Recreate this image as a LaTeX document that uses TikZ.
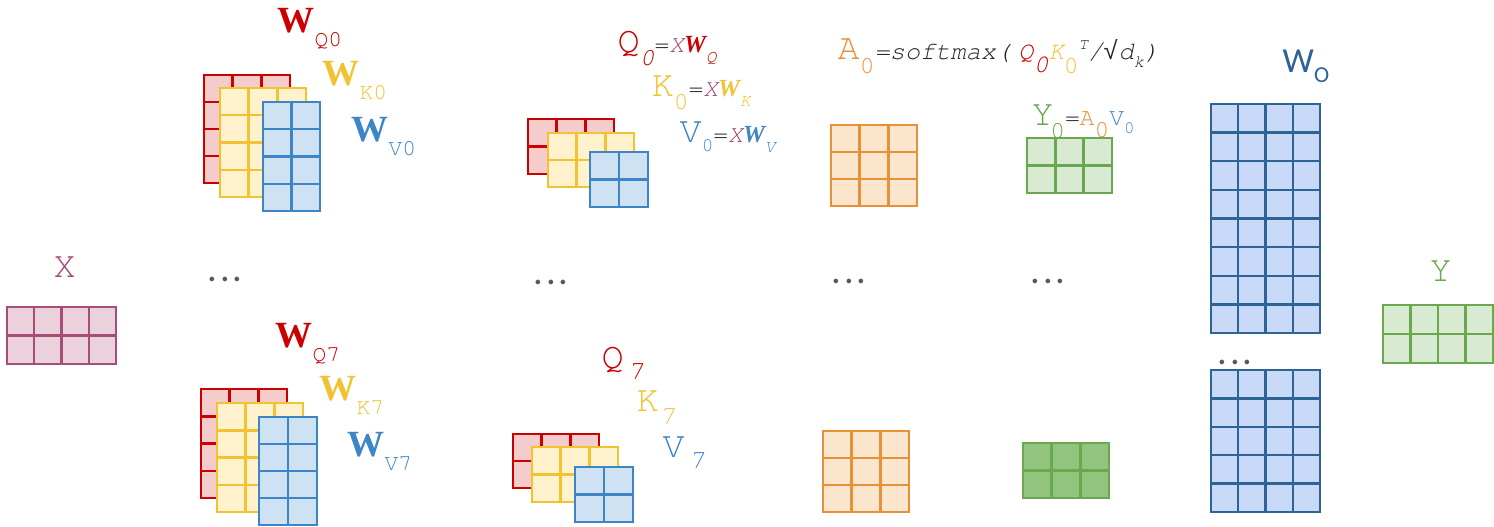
\documentclass[tikz,border=0pt]{standalone}
\usepackage{fontspec}
\setmainfont{Liberation Serif}
\newfontfamily\monofont{TeX Gyre Cursor}
\newfontfamily\symfont{Liberation Mono}
\newfontfamily\califont{Carlito}
\definecolor{cq}{HTML}{CC0000}
\definecolor{ck}{HTML}{F1C232}
\definecolor{cv}{HTML}{3D85C6}
\definecolor{ca}{HTML}{E69138}
\definecolor{cy}{HTML}{6AA84F}
\definecolor{cx}{HTML}{A64D79}
\definecolor{co}{HTML}{2E6396}
\definecolor{ink}{HTML}{262626}
\definecolor{dotc}{HTML}{595959}
\definecolor{qfill}{HTML}{F4CCCC}
\definecolor{kfill}{HTML}{FFF2CC}
\definecolor{vfill}{HTML}{CFE2F3}
\definecolor{afill}{HTML}{FCE5CD}
\definecolor{yfill}{HTML}{D9EAD3}
\definecolor{ydark}{HTML}{93C47D}
\definecolor{xfill}{HTML}{EAD1DC}
\definecolor{ofill}{HTML}{C9DAF8}
\usepackage{tikz}

\newcommand{\fs}[1]{\fontsize{#1}{#1}\selectfont}
\newcommand{\mono}[2]{{\monofont\fs{#1}#2}}
\newcommand{\monoi}[2]{{\monofont\itshape\fs{#1}#2}}
\newcommand{\dn}[2]{\raisebox{-#1}{#2}}
\newcommand{\wlab}[1]{{\bfseries\fs{10.5}W}\dn{4pt}{\mono{6.5}{#1}}}
\newcommand{\dotrow}{{\califont\fs{11}.\kern0.8pt.\kern0.8pt.}}
% style, left, top, right, bottom, cols, rows
\newcommand{\cells}[7]{%
  \filldraw[#1] (#2,#3) rectangle (#4,#5);
  \pgfmathtruncatemacro\nc{#6-1}
  \pgfmathtruncatemacro\nr{#7-1}
  \foreach \i in {1,...,\nc} \draw[#1] ({#2+(#4-#2)*\i/#6},#3) -- ({#2+(#4-#2)*\i/#6},#5);
  \foreach \j in {1,...,\nr} \draw[#1] (#2,{#3+(#5-#3)*\j/#7}) -- (#4,{#3+(#5-#3)*\j/#7});
}

\begin{document}
\begin{tikzpicture}[
  x=0.01cm,y=-0.01cm,
  lab/.style={inner sep=0pt,anchor=base west},
  dotlab/.style={inner sep=0pt,anchor=base west,text=dotc},
  qmat/.style={draw=cq,fill=qfill,line width=0.7pt},
  kmat/.style={draw=ck,fill=kfill,line width=0.7pt},
  vmat/.style={draw=cv,fill=vfill,line width=0.7pt},
  amat/.style={draw=ca,fill=afill,line width=0.7pt},
  ymat/.style={draw=cy,fill=yfill,line width=0.7pt},
  ymatdark/.style={draw=cy,fill=ydark,line width=0.7pt},
  xmat/.style={draw=cx,fill=xfill,line width=0.7pt},
  omat/.style={draw=co,fill=ofill,line width=0.7pt}
]
  \useasboundingbox (0,0) rectangle (1494,526);

  % input
  \node[lab,text=cx] (xlab) at (53,277) {\mono{10.5}{X}};
  \cells{xmat}{7}{307}{116}{364}{4}{2}

  % weights, head 0 and head 7
  \cells{qmat}{204}{75}{290}{183}{3}{4}
  \cells{kmat}{220}{88}{306}{197}{3}{4}
  \cells{vmat}{263}{102}{320}{211}{2}{4}
  \node[lab,text=cq] (wq0) at (277,32) {\wlab{Q0}};
  \node[lab,text=ck] (wk0) at (322,85) {\wlab{K0}};
  \node[lab,text=cv] (wv0) at (351,141) {\wlab{V0}};

  \cells{qmat}{201}{389}{287}{498}{3}{4}
  \cells{kmat}{217}{403}{303}{512}{3}{4}
  \cells{vmat}{259}{417}{317}{525}{2}{4}
  \node[lab,text=cq] (wq7) at (275,347) {\wlab{Q7}};
  \node[lab,text=ck] (wk7) at (319,400) {\wlab{K7}};
  \node[lab,text=cv] (wv7) at (347,456) {\wlab{V7}};

  % Q K V
  \cells{qmat}{528}{119}{614}{174}{3}{2}
  \cells{kmat}{548}{133}{634}{187}{3}{2}
  \cells{vmat}{590}{152}{648}{207}{2}{2}
  \node[lab] (q0) at (617,52) {\textcolor{cq}{\mono{10.5}{Q}\dn{3.7pt}{\monoi{7}{0}}}\textcolor{ink}{\mono{7}{=}}\textcolor{cx}{\monoi{7}{X}}\textcolor{cq}{{\bfseries\itshape\fs{7}W}\dn{3pt}{\monoi{5}{Q}}}};
  \node[lab] (k0) at (651,96) {\textcolor{ck}{\mono{10.5}{K}\dn{3.7pt}{\mono{7}{0}}}\textcolor{ink}{\mono{7}{=}}\textcolor{cx}{\monoi{7}{X}}\textcolor{ck}{{\bfseries\itshape\fs{7}W}\dn{3pt}{\monoi{5}{K}}}};
  \node[lab] (v0) at (679,142) {\textcolor{cv}{\mono{10.5}{V}\dn{2.6pt}{\mono{5.5}{0}}}\textcolor{ink}{\mono{7}{=}}\textcolor{cx}{\monoi{7}{X}}\textcolor{cv}{{\bfseries\itshape\fs{7}W}\dn{3pt}{\monoi{5}{V}}}};

  \cells{qmat}{513}{434}{599}{488}{3}{2}
  \cells{kmat}{532}{447}{618}{502}{3}{2}
  \cells{vmat}{575}{467}{633}{522}{2}{2}
  \node[lab,text=cq] (q7) at (601,368) {\mono{10.5}{Q}\kern1pt\dn{3.4pt}{\monoi{7.5}{7}}};
  \node[lab,text=ck] (k7) at (636,411) {\mono{10.5}{K}\dn{3.7pt}{\monoi{7.5}{7}}};
  \node[lab,text=cv] (v7) at (662,457) {\mono{10.5}{V}\kern1pt\dn{3.4pt}{\monoi{7.5}{7}}};

  % attention
  \node[lab] (a0) at (837,59) {\textcolor{ca}{\mono{10.5}{A}\dn{4pt}{\mono{7}{0}}}\textcolor{ink}{\monoi{7.2}{=softmax(}}\kern2pt\textcolor{cq}{\monoi{7.2}{Q}\dn{3.7pt}{\monoi{7.2}{0}}}\textcolor{ck}{\monoi{7.2}{K}\dn{4pt}{\mono{7}{0}}}\textcolor{ink}{\raisebox{2.6pt}{\monoi{4.5}{T}}\monoi{7.2}{/}{\symfont\fs{7.2}√}\monoi{7.2}{d}\dn{2.5pt}{\monoi{5}{k}}\monoi{7.2}{)}}};
  \cells{amat}{831}{125}{917}{206}{3}{3}
  \cells{amat}{823}{431}{909}{512}{3}{3}

  % head outputs
  \node[lab] (y0) at (1031,125) {\textcolor{cy}{\mono{10.5}{Y}\kern-1pt\dn{3.7pt}{\mono{7}{0}}}\textcolor{ink}{\mono{7}{=}}\textcolor{ca}{\mono{7}{A}\dn{3.5pt}{\mono{7}{0}}}\textcolor{cv}{\mono{7}{V}\dn{2.5pt}{\mono{5}{0}}}};
  \cells{ymat}{1027}{138}{1112}{193}{3}{2}
  \cells{ymatdark}{1023}{443}{1109}{498}{3}{2}

  % output projection
  \node[lab,text=co] (wo) at (1282,72) {{\califont\fs{10}W}\dn{3.1pt}{\califont\fs{6.5}O}};
  \cells{omat}{1211}{104}{1320}{333}{4}{8}
  \cells{omat}{1211}{370}{1320}{512}{4}{5}

  % result
  \node[lab,text=cy] (ylab) at (1429,281) {\mono{10.5}{Y}};
  \cells{ymat}{1383}{305}{1493}{363}{4}{2}

  \node[dotlab] (d1) at (207,281) {\dotrow};
  \node[dotlab] (d2) at (533,284) {\dotrow};
  \node[dotlab] (d3) at (831,283) {\dotrow};
  \node[dotlab] (d4) at (1030,283) {\dotrow};
  \node[dotlab] (d5) at (1217,364) {\dotrow};
\end{tikzpicture}
\end{document}
